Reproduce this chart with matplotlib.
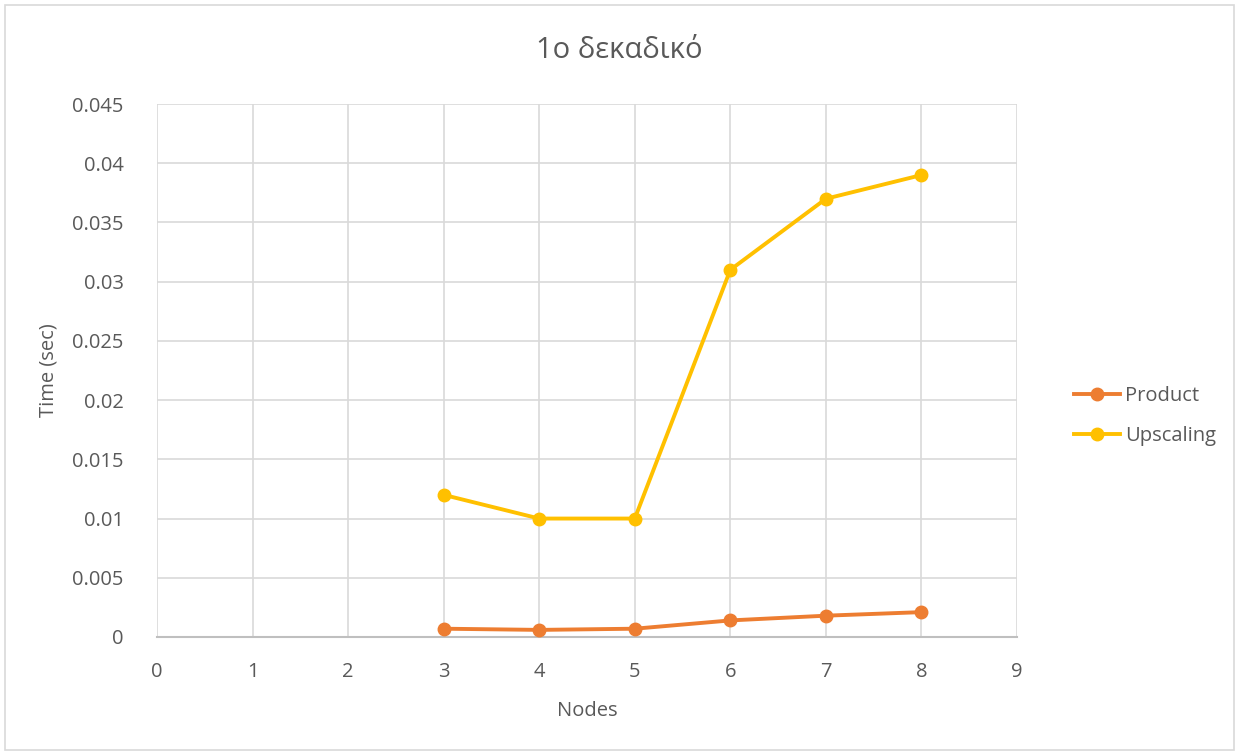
import matplotlib.pyplot as plt
from matplotlib.patches import Rectangle

plt.rcParams['font.family'] = ['Open Sans', 'DejaVu Sans']

nodes = [3, 4, 5, 6, 7, 8]
product = [0.0007, 0.0006, 0.0007, 0.0014, 0.0018, 0.0021]
upscaling = [0.012, 0.010, 0.010, 0.031, 0.037, 0.039]

txt = '#595959'
grid = '#d9d9d9'

fig = plt.figure(figsize=(12.39, 7.53), dpi=100)
fig.patches.append(Rectangle((0.004, 0.004), 0.992, 0.99, transform=fig.transFigure,
                             fill=False, edgecolor=grid, linewidth=1.2))
ax = fig.add_axes([157 / 1239, 1 - 637 / 753, 860 / 1239, 533 / 753])

ax.plot(nodes, product, color='#ed7d31', lw=2.8, marker='o', ms=9, label='Product', zorder=3)
ax.plot(nodes, upscaling, color='#ffc000', lw=2.8, marker='o', ms=9, label='Upscaling', zorder=3)

ax.set_xlim(0, 9)
ax.set_ylim(0, 0.045)
ax.set_xticks(range(0, 10))
ax.set_yticks([i * 0.005 for i in range(10)])
ax.set_yticklabels(['0', '0.005', '0.01', '0.015', '0.02', '0.025', '0.03', '0.035', '0.04', '0.045'])
ax.grid(True, color=grid, lw=1.2)
ax.set_axisbelow(True)
for s in ['left', 'right', 'top']:
    ax.spines[s].set_visible(False)
ax.spines['bottom'].set_color('#bfbfbf')
ax.spines['bottom'].set_linewidth(1.5)
ax.tick_params(axis='x', length=0, labelsize=14.5, colors=txt, pad=18)
ax.tick_params(axis='y', length=0, labelsize=14.5, colors=txt, pad=24)

ax.set_xlabel('Nodes', fontsize=14.5, color=txt, labelpad=14)
ax.set_ylabel('Time (sec)', fontsize=14.5, color=txt, labelpad=10)
fig.text(0.5, 1 - 50 / 753, '1ο δεκαδικό', ha='center', va='center', fontsize=21, color=txt)

ax.legend(loc='center left', bbox_to_anchor=(1.045, 0.415), frameon=False, fontsize=14.5,
          labelcolor=txt, handlelength=2.3, handletextpad=0.25, labelspacing=1.0)

fig.savefig('out.png', dpi=100)
